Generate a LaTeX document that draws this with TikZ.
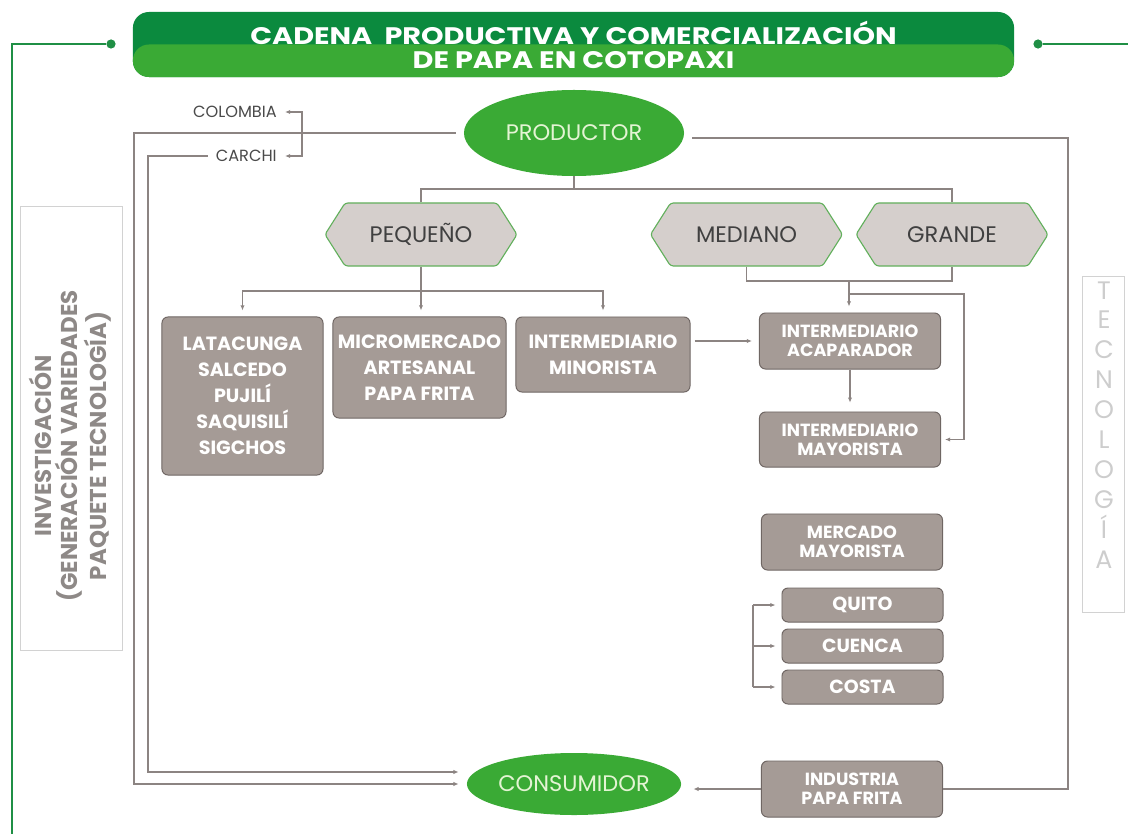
\documentclass[tikz,border=0pt]{standalone}
\usepackage{fontspec}
\setmainfont{Poppins}
\newfontfamily\titlefont{Poppins}[FakeStretch=1.2]
\usetikzlibrary{positioning,shapes.geometric,shapes.symbols,arrows.meta,calc}
\definecolor{darkgreen}{HTML}{0B8A3E}
\definecolor{leafgreen}{HTML}{3AAA35}
\definecolor{linegreen}{HTML}{1F8F45}
\definecolor{taupe}{HTML}{A59B96}
\definecolor{taupeline}{HTML}{6F6663}
\definecolor{hexfill}{HTML}{D5CFCC}
\definecolor{hexline}{HTML}{62B05C}
\definecolor{wire}{HTML}{8C8482}
\definecolor{sidegray}{HTML}{D2D2D2}
\definecolor{invgray}{HTML}{8E8987}
\definecolor{tecgray}{HTML}{CDCDCD}
\definecolor{prodtext}{HTML}{E4F4D4}
\definecolor{placegray}{HTML}{4A4A4A}

\begin{document}
\begin{tikzpicture}[
    x=0.025cm, y=-0.025cm,
    >={Latex[length=1.3mm,width=1.1mm]},
    banner/.style={
        rounded corners=0.4cm,
        fill=darkgreen,
        minimum width=22.025cm,
        minimum height=1.625cm,
        inner sep=0pt,
        align=center,
        text=white,
        font=\titlefont\bfseries\fontsize{17}{17}\selectfont,
        path picture={\fill[leafgreen] (path picture bounding box.west) rectangle (path picture bounding box.south east);}
    },
    oval/.style={
        ellipse,
        fill=leafgreen,
        inner sep=0pt,
        text=prodtext,
        font=\fontsize{16}{18}\selectfont
    },
    hexa/.style={
        signal,
        signal to=east and west,
        signal pointer angle=115,
        draw=hexline,
        fill=hexfill,
        line width=0.8pt,
        rounded corners=2pt,
        minimum width=4.8cm,
        minimum height=1.575cm,
        inner sep=0pt,
        text=black!75,
        font=\fontsize{16}{18}\selectfont
    },
    box/.style={
        rectangle,
        draw=taupeline,
        fill=taupe,
        rounded corners=0.15cm,
        line width=0.7pt,
        inner sep=0pt,
        align=center,
        text=white,
        font=\bfseries\fontsize{13.6}{18.5}\selectfont
    },
    smallbox/.style={
        box,
        minimum width=4.525cm,
        font=\bfseries\fontsize{12.5}{13.5}\selectfont
    },
    citybox/.style={
        box,
        minimum width=4.025cm,
        minimum height=0.85cm,
        font=\bfseries\fontsize{13.5}{15}\selectfont
    },
    place/.style={
        inner sep=0.2cm,
        text=placegray,
        font=\fontsize{11.5}{13}\selectfont
    },
    sidebox/.style={
        draw=sidegray,
        line width=0.6pt,
        inner sep=0pt
    },
    dot/.style={circle, fill=linegreen, inner sep=0pt, minimum size=0.23cm},
    greenline/.style={linegreen, line width=2pt},
    line/.style={wire, line width=0.9pt},
    arr/.style={->, wire, line width=0.9pt}
]
\useasboundingbox (0,0) rectangle (1128,834);

% title and green frame
\node[banner] (title) at (573.5,44.5) {CADENA~~PRODUCTIVA Y COMERCIALIZACI\'ON\\DE PAPA EN COTOPAXI};
\node[dot] (dotL) at (111,44) {};
\node[dot] (dotR) at (1038,44) {};
\coordinate (gtop) at (12,44);
\coordinate (gbot) at (12,834);
\coordinate (gright) at (1128,44);
\draw[greenline] (dotL) -- (gtop) -- (gbot);
\draw[greenline] (dotR) -- (gright);

% side notes
\node[sidebox, minimum width=2.55cm, minimum height=11.1cm] (invbox) at (71,428) {};
\node[rotate=90, align=center, text=invgray, font=\bfseries\fontsize{16.3}{18.5}\selectfont] (inv) at (70,446)
    {INVESTIGACI\'ON\\(GENERACI\'ON VARIEDADES\\PAQUETE TECNOLOG\'IA)};
\node[sidebox, minimum width=1.05cm, minimum height=8.4cm] (tecbox) at (1103,444) {};
\node[align=center, text=tecgray, font=\fontsize{18}{21.3}\selectfont] (tec) at (1104,425)
    {T\\E\\C\\N\\O\\L\\O\\G\\\'I\\A};

% producer and consumer
\node[oval, minimum width=5.5cm, minimum height=2.15cm] (prod) at (574,133) {PRODUCTOR};
\node[oval, minimum width=5.1cm, minimum height=1.55cm] (cons) at (574,784) {CONSUMIDOR};

% exports
\node[place, anchor=east] (colombia) at (285,112) {COLOMBIA};
\node[place, anchor=east] (carchi) at (285,156) {CARCHI};
\coordinate (brk) at (302,133);
\draw[arr] (brk) |- (colombia.east);
\draw[arr] (brk) |- (carchi.east);

% long returns to the consumer
\coordinate (outerbot) at (134,784);
\coordinate (innerbot) at (148,772);
\draw[arr, shorten <=2mm, shorten >=2mm] (prod.west) -| (outerbot) -- (cons.west);
\draw[arr, shorten >=2mm] (carchi.west) -| (innerbot) -- (innerbot -| cons.west);

% producer sizes
\node[hexa] (peq) at (421,234.5) {PEQUE\~NO};
\node[hexa] (med) at (746.5,234.5) {MEDIANO};
\node[hexa] (gra) at (952,234.5) {GRANDE};
\coordinate (prodbar) at (574,189);
\draw[line] (prod.south) -- (prodbar);
\draw[line] (peq.north) |- (prodbar) -| (gra.north);

% small producer channels
\node[box, minimum width=4.025cm, minimum height=3.95cm] (lat) at (242.5,396)
    {LATACUNGA\\SALCEDO\\PUJIL\'I\\SAQUISIL\'I\\SIGCHOS};
\node[box, minimum width=4.325cm, minimum height=2.525cm] (mic) at (419.5,367.5)
    {MICROMERCADO\\ARTESANAL\\PAPA FRITA};
\node[box, minimum width=4.35cm, minimum height=1.875cm] (min) at (603,354.5)
    {INTERMEDIARIO\\MINORISTA};
\coordinate (peqbar) at (421,291);
\draw[line] (peq.south) -- (peqbar);
\draw[arr, shorten >=1.5mm] (peqbar) -| (lat.north);
\draw[arr, shorten >=1.5mm] (peqbar) -- (mic.north -| peqbar);
\draw[arr, shorten >=1.5mm] (peqbar) -| (min.north);

% medium and large producer channels
\node[smallbox, minimum height=1.4cm] (acap) at (850,341) {INTERMEDIARIO\\ACAPARADOR};
\node[smallbox, minimum height=1.375cm] (imay) at (850,439.5) {INTERMEDIARIO\\MAYORISTA};
\coordinate (mgbar) at (849,281);
\coordinate (mgside) at (849,294);
\coordinate (rside) at (964,294);
\draw[line] (med.south) |- (mgbar) -| (gra.south);
\draw[arr, shorten >=1.5mm] (mgbar) -- (acap.north -| mgbar);
\draw[arr, shorten >=1mm] (mgside) -- (rside) |- (imay.east);
\draw[arr, shorten >=2.2mm] (acap.south) -- (imay.north);
\draw[arr, shorten <=1mm, shorten >=1.75mm] (min.east |- acap.west) -- (acap.west);

% wholesale market and cities
\node[smallbox, minimum height=1.4cm] (mmay) at (852,542) {MERCADO\\MAYORISTA};
\node[citybox] (quito) at (862.5,605) {QUITO};
\node[citybox] (cuenca) at (862.5,646) {CUENCA};
\node[citybox] (costa) at (862.5,687) {COSTA};
\coordinate (brkc) at (753,646);
\draw[line] (brkc |- quito.west) -- (brkc |- costa.west);
\foreach \city in {quito,cuenca,costa}
    \draw[arr, shorten >=1.5mm] (brkc |- \city.west) -- (\city.west);

% industry
\node[smallbox, minimum height=1.4cm] (indus) at (852,789) {INDUSTRIA\\PAPA FRITA};
\coordinate (rtop) at (1068,138);
\coordinate (rbot) at (1068,789);
\draw[line, shorten <=2mm] (prod.east |- rtop) -- (rtop) -- (rbot) -- (indus.east);
\draw[arr, shorten >=3mm] (indus.west) -- (indus.west -| cons.east);

\end{tikzpicture}
\end{document}
